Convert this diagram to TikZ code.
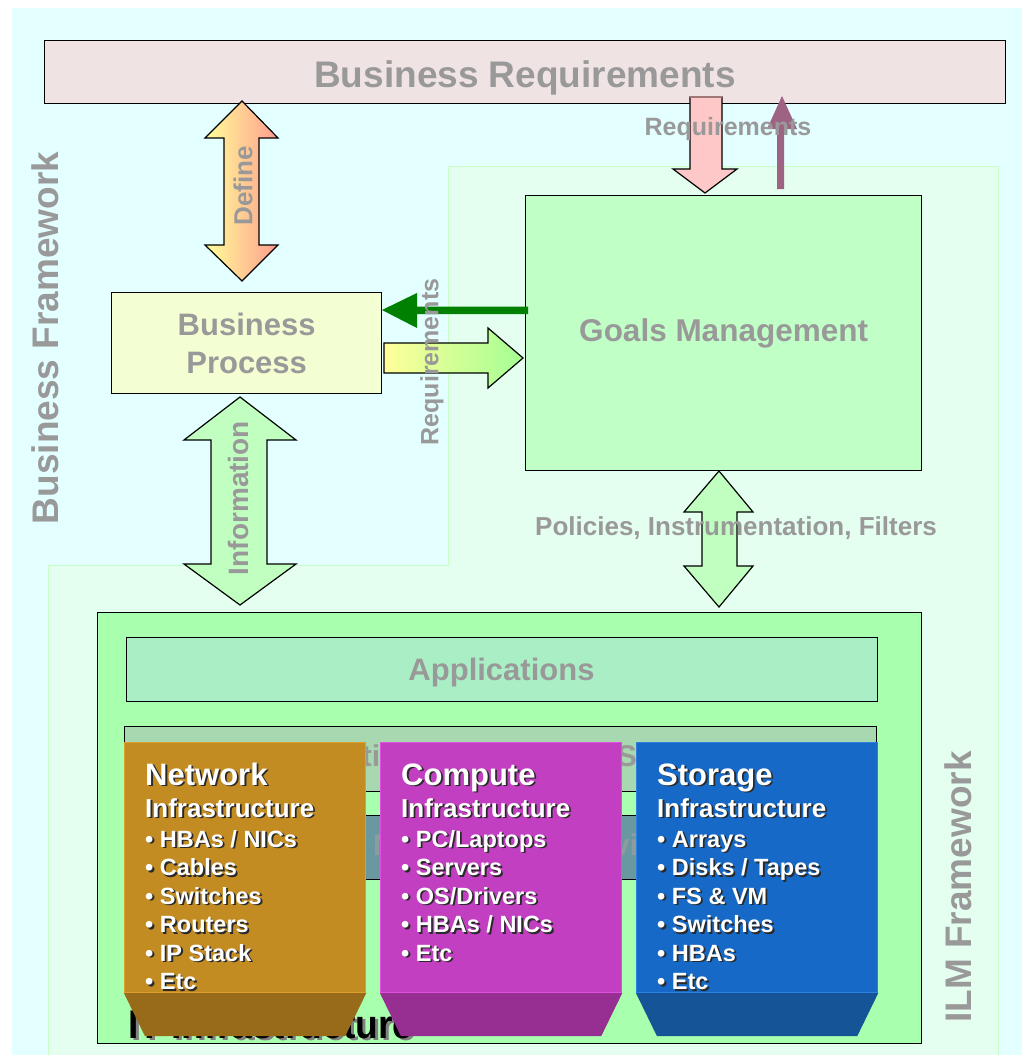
\documentclass[tikz,border=0pt]{standalone}
\usepackage{fontspec}
\setmainfont{Liberation Sans}
\usetikzlibrary{calc}
\definecolor{bgcyan}{HTML}{E3FFFF}
\definecolor{ilmfill}{HTML}{E4FFF0}
\definecolor{ilmedge}{HTML}{C8FFC8}
\definecolor{brfill}{HTML}{F0E3E4}
\definecolor{txtgray}{HTML}{999999}
\definecolor{goalfill}{HTML}{C0FFC6}
\definecolor{bpfill}{HTML}{F3FFD2}
\definecolor{itfill}{HTML}{A8FFAE}
\definecolor{appfill}{HTML}{AAEEC6}
\definecolor{boxafill}{HTML}{A8D8B0}
\definecolor{boxbfill}{HTML}{6A98A0}
\definecolor{boxbtxt}{HTML}{8E9C9E}
\definecolor{netfill}{HTML}{C38C22}
\definecolor{netdark}{HTML}{976B1A}
\definecolor{netedge}{HTML}{DDA02E}
\definecolor{compfill}{HTML}{C23FC2}
\definecolor{compdark}{HTML}{972E92}
\definecolor{compedge}{HTML}{E050E0}
\definecolor{storfill}{HTML}{1669C6}
\definecolor{stordark}{HTML}{145497}
\definecolor{storedge}{HTML}{2A80E4}
\definecolor{arrgreen}{HTML}{C0FFC0}
\definecolor{darkgreen}{HTML}{008000}
\definecolor{pinkarr}{HTML}{FFC8C8}
\definecolor{pinkedge}{HTML}{A07878}
\definecolor{mauve}{HTML}{9E6283}
\definecolor{yel}{HTML}{FFFF99}
\definecolor{salmon}{HTML}{FF9C8E}
\definecolor{lgreen}{HTML}{A4FF94}
\definecolor{shadowc}{HTML}{2A2A2A}
\newcommand\myfs[1]{\fontsize{#1}{#1}\selectfont}
\newcommand\colline[5]{%
  \node[colshadow, font=\bfseries\myfs{#4}] (#1s) at (#2+1.8,#3+1.8) {#5};
  \node[coltext, font=\bfseries\myfs{#4}] (#1) at (#2,#3) {#5};}
\begin{document}
\begin{tikzpicture}[x=1pt,y=-1pt,line join=miter,
  box/.style={draw=black, line width=1.3pt, inner sep=0pt, anchor=north west},
  lbl/.style={text=txtgray, inner sep=0pt},
  blockarrow/.style={draw=black, line width=1.2pt, line join=miter},
  col/.style={anchor=north west, minimum width=241pt, minimum height=250pt, inner sep=0pt, line width=1.2pt},
  coltext/.style={anchor=base west, inner sep=0pt, text=white},
  colshadow/.style={anchor=base west, inner sep=0pt, text=shadowc}]
\useasboundingbox (0,0) rectangle (1022,1055);
\fill[white] (0,0) rectangle (1022,1055);
\fill[bgcyan] (12,8) rectangle (1022,1055);
\path[fill=ilmfill, draw=ilmedge, line width=1pt] (448,166) -- (998,166) -- (998,1060) -- (48,1060) -- (48,565) -- (448,565) -- cycle;

% framework labels
\node[lbl, rotate=90, font=\bfseries\myfs{37}] (bfw) at (45,338) {Business Framework};
\node[lbl, rotate=90, font=\bfseries\myfs{37}] (ilmfw) at (958,887) {ILM Framework};

% business requirements
\node[box, fill=brfill, minimum width=961pt, minimum height=63pt] (br) at (44,40) {};
\node[lbl, anchor=base, font=\bfseries\myfs{37}] (brtxt) at (525,87) {Business Requirements};

% IT infrastructure
\node[box, fill=itfill, minimum width=824pt, minimum height=431pt] (it) at (97,612) {};
\node[box, fill=appfill, minimum width=751pt, minimum height=64pt] (apps) at (126,637) {};
\node[lbl, anchor=base, font=\bfseries\myfs{31}] (appstxt) at (501.5,680) {Applications};
\node[box, fill=boxafill, minimum width=752pt, minimum height=65pt] (boxa) at (124,726) {};
\node[lbl, font=\bfseries\myfs{30}] (boxatxt) at (496,759) {Information Management Services};
\node[box, fill=boxbfill, minimum width=752pt, minimum height=64pt] (boxb) at (124,815) {};
\node[lbl, text=boxbtxt, font=\bfseries\myfs{30}] (boxbtxt) at (494,848) {Data Management Services};
\node[anchor=base west, inner sep=0pt, text=gray, font=\bfseries\myfs{40}, xscale=0.93] (itts) at (131,1040) {IT Infrastructure};
\node[anchor=base west, inner sep=0pt, text=black, font=\bfseries\myfs{40}, xscale=0.93] (itt) at (128,1038) {IT Infrastructure};

% columns
\node[col, fill=netfill, draw=netedge] (net) at (124,742) {};
\fill[netdark] (net.south west) -- (net.south east) -- ($(net.south east)+(-21,43)$) -- ($(net.south west)+(21,43)$) -- cycle;
\node[col, fill=compfill, draw=compedge] (comp) at (380,742) {};
\fill[compdark] (comp.south west) -- (comp.south east) -- ($(comp.south east)+(-21,43)$) -- ($(comp.south west)+(21,43)$) -- cycle;
\node[col, fill=storfill, draw=storedge] (stor) at (636,742) {};
\fill[stordark] (stor.south west) -- (stor.south east) -- ($(stor.south east)+(-21,43)$) -- ($(stor.south west)+(21,43)$) -- cycle;

\colline{na}{145}{785}{31}{Network}
\colline{nb}{145}{817}{26}{Infrastructure}
\colline{nc}{145}{847}{23.5}{• HBAs / NICs}
\colline{nd}{145}{875.5}{23.5}{• Cables}
\colline{ne}{145}{904}{23.5}{• Switches}
\colline{nf}{145}{932.5}{23.5}{• Routers}
\colline{ng}{145}{961}{23.5}{• IP Stack}
\colline{nh}{145}{989.5}{23.5}{• Etc}

\colline{ca}{401}{785}{31}{Compute}
\colline{cb}{401}{817}{26}{Infrastructure}
\colline{cc}{401}{847}{23.5}{• PC/Laptops}
\colline{cd}{401}{875.5}{23.5}{• Servers}
\colline{ce}{401}{904}{23.5}{• OS/Drivers}
\colline{cf}{401}{932.5}{23.5}{• HBAs / NICs}
\colline{cg}{401}{961}{23.5}{• Etc}

\colline{sa}{657}{785}{31}{Storage}
\colline{sb}{657}{817}{26}{Infrastructure}
\colline{sc}{657}{847}{23.5}{• Arrays}
\colline{sd}{657}{875.5}{23.5}{• Disks / Tapes}
\colline{se}{657}{904}{23.5}{• FS \& VM}
\colline{sf}{657}{932.5}{23.5}{• Switches}
\colline{sg}{657}{961}{23.5}{• HBAs}
\colline{sh}{657}{989.5}{23.5}{• Etc}

% goals and business process
\node[box, fill=goalfill, minimum width=396pt, minimum height=275pt, text=txtgray, font=\bfseries\myfs{31.5}] (goals) at (525,195) {Goals Management};
\node[box, fill=bpfill, minimum width=270pt, minimum height=101pt, text=txtgray, align=center, font=\bfseries\fontsize{31}{38}\selectfont] (bp) at (111,292) {Business\\Process};

% Define double arrow
\path[blockarrow, left color=yel, right color=salmon] (242,101) -- (278,138) -- (259,138) -- (259,245) -- (278,245) -- (242,281) -- (205,245) -- (224,245) -- (224,138) -- (205,138) -- cycle;
\node[lbl, rotate=90, font=\bfseries\myfs{26}] (deftxt) at (243,186) {Define};

% pink requirements arrow
\path[blockarrow, fill=pinkarr] (690,97) -- (722,97) -- (722,169) -- (737,169) -- (705,193) -- (673,169) -- (690,169) -- cycle;
\draw[pinkedge, line width=1.2pt] (690,97) -- (722,97);
% mauve up arrow
\fill[mauve] (777,189) -- (784,189) -- (784,129) -- (797,129) -- (782,96) -- (767,129) -- (777,129) -- cycle;
\node[lbl, font=\bfseries\myfs{25}] (reqtop) at (728,129) {Requirements};

% green arrow to business process
\fill[darkgreen] (528,306.5) -- (417,306.5) -- (417,293) -- (382,310) -- (417,328) -- (417,314) -- (528,314) -- cycle;
% gradient arrow to goals
\path[blockarrow, left color=yel, right color=lgreen] (384,343) -- (488,343) -- (488,328) -- (523,358) -- (488,388) -- (488,373) -- (384,373) -- cycle;
\node[lbl, rotate=90, font=\bfseries\myfs{25}] (reqside) at (432,362) {Requirements};

% Information double arrow
\path[blockarrow, fill=arrgreen] (240,397) -- (296,440) -- (267,440) -- (267,564) -- (296,564) -- (240,605) -- (184,564) -- (211,564) -- (211,440) -- (184,440) -- cycle;
\node[lbl, rotate=90, font=\bfseries\myfs{28}] (infotxt) at (238,498) {Information};

% Policies double arrow
\path[blockarrow, fill=arrgreen] (719,471) -- (753,512) -- (737,512) -- (737,566) -- (753,566) -- (719,607) -- (684,566) -- (702,566) -- (702,512) -- (684,512) -- cycle;
\node[lbl, font=\bfseries\myfs{26}] (poltxt) at (736,528) {Policies, Instrumentation, Filters};
\end{tikzpicture}
\end{document}
